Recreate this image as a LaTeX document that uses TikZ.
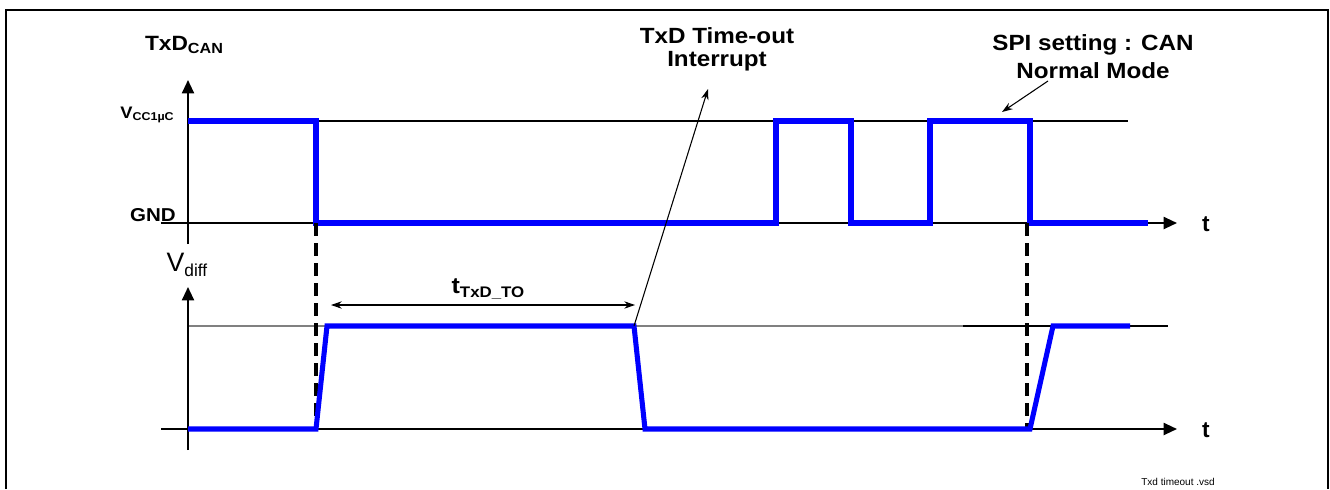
\documentclass[tikz,border=0pt]{standalone}
\usepackage{fontspec}
\usepackage{graphicx}
\setmainfont{Liberation Sans}
\usetikzlibrary{arrows.meta}
\definecolor{sigblue}{RGB}{0,0,255}
\newcommand{\stretchtext}[1]{\scalebox{1.1}[1]{#1}}
\begin{document}
\begin{tikzpicture}[x=0.75pt,y=-0.75pt,
  frame/.style={line width=0.9pt},
  axis/.style={line width=1.5pt,-{Triangle[length=10pt,width=9pt]}},
  ref/.style={line width=0.8pt},
  sig/.style={line width=3.8pt,sigblue,line join=miter},
  dashline/.style={line width=2.6pt,dash pattern=on 10pt off 5pt},
  ann/.style={line width=0.8pt,-{Stealth[length=8pt,width=5.5pt]}},
  note/.style={font=\bfseries\fontsize{16.5}{17}\selectfont,align=center,inner sep=0pt},
  tlab/.style={font=\bfseries\fontsize{17}{18}\selectfont,inner sep=0pt}]
\useasboundingbox (0,0) rectangle (1330,489);
% frame
\draw[frame] (6,489) -- (6,10) -- (1328,10) -- (1328,489);
% ---------- upper plot ----------
\draw[ref] (316,121) -- (1128,121);
\draw[line width=1.5pt] (161,223) -- (188,223);
\draw[axis] (188,223) -- (1177,223);
\draw[axis] (188,244) -- (188,80);
\draw[sig] (188,121) -- (316,121) -- (316,223) -- (776,223) -- (776,121) -- (851,121) -- (851,223) -- (930,223) -- (930,121) -- (1030,121) -- (1030,223) -- (1148,223);
\node[font=\bfseries\fontsize{15.5}{16}\selectfont,inner sep=0pt] (txd) at (184,45) {\stretchtext{TxD\raisebox{-0.3ex}{\fontsize{11}{12}\selectfont CAN}}};
\node[font=\bfseries\fontsize{12.5}{13}\selectfont,inner sep=0pt,anchor=east] (vcc) at (174,115) {\stretchtext{V\raisebox{-0.3ex}{\fontsize{8.5}{9}\selectfont CC1µC}}};
\node[font=\bfseries\fontsize{14}{15}\selectfont,inner sep=0pt,anchor=east] (gnd) at (176,215) {\stretchtext{GND}};
\node[tlab] (t1) at (1206,224) {t};
% ---------- lower plot ----------
\draw[ref,gray] (188,326) -- (963,326);
\draw[ref] (963,326) -- (1168,326);
\draw[line width=1.5pt] (161,429) -- (188,429);
\draw[axis] (188,429) -- (1177,429);
\draw[axis] (188,450) -- (188,287);
\draw[dashline] (316,223) -- (316,429);
\draw[dashline] (1027,223) -- (1027,429);
\draw[sig] (188,429) -- (316,429) -- (327,326) -- (634,326) -- (645,429) -- (1030,429) -- (1053,326) -- (1130,326);
\node[font=\fontsize{20}{21}\selectfont,inner sep=0pt] (vdiff) at (187,265) {V\raisebox{-0.35ex}{\fontsize{13}{14}\selectfont diff}};
\node[tlab] (t2) at (1206,430) {t};
% t_TxD_TO
\coordinate (ta) at (331,305);
\coordinate (tb) at (635,305);
\draw[line width=0.8pt,{Stealth[length=8pt,width=5.5pt]}-{Stealth[length=8pt,width=5.5pt]}] (ta) -- (tb);
\node[font=\bfseries\fontsize{17}{18}\selectfont,inner sep=0pt] (tto) at (488,289) {\stretchtext{t\raisebox{-0.3ex}{\fontsize{11.5}{12}\selectfont TxD\_TO}}};
% annotations
\node[note] (intr) at (717,49) {\stretchtext{TxD Time-out}\\\stretchtext{Interrupt}};
\coordinate (intrfoot) at (634,326);
\draw[ann] (intrfoot) -- (708,89);
\node[note,font=\bfseries\fontsize{16.5}{21}\selectfont] (spi) at (1093,57) {\stretchtext{SPI setting : CAN}\\\stretchtext{Normal Mode}};
\coordinate (spitip) at (1002,112);
\draw[ann] (1048,81) -- (spitip);
\node[font=\fontsize{7.5}{8}\selectfont,inner sep=0pt] (file) at (1178,482) {Txd timeout .vsd};
\end{tikzpicture}
\end{document}
